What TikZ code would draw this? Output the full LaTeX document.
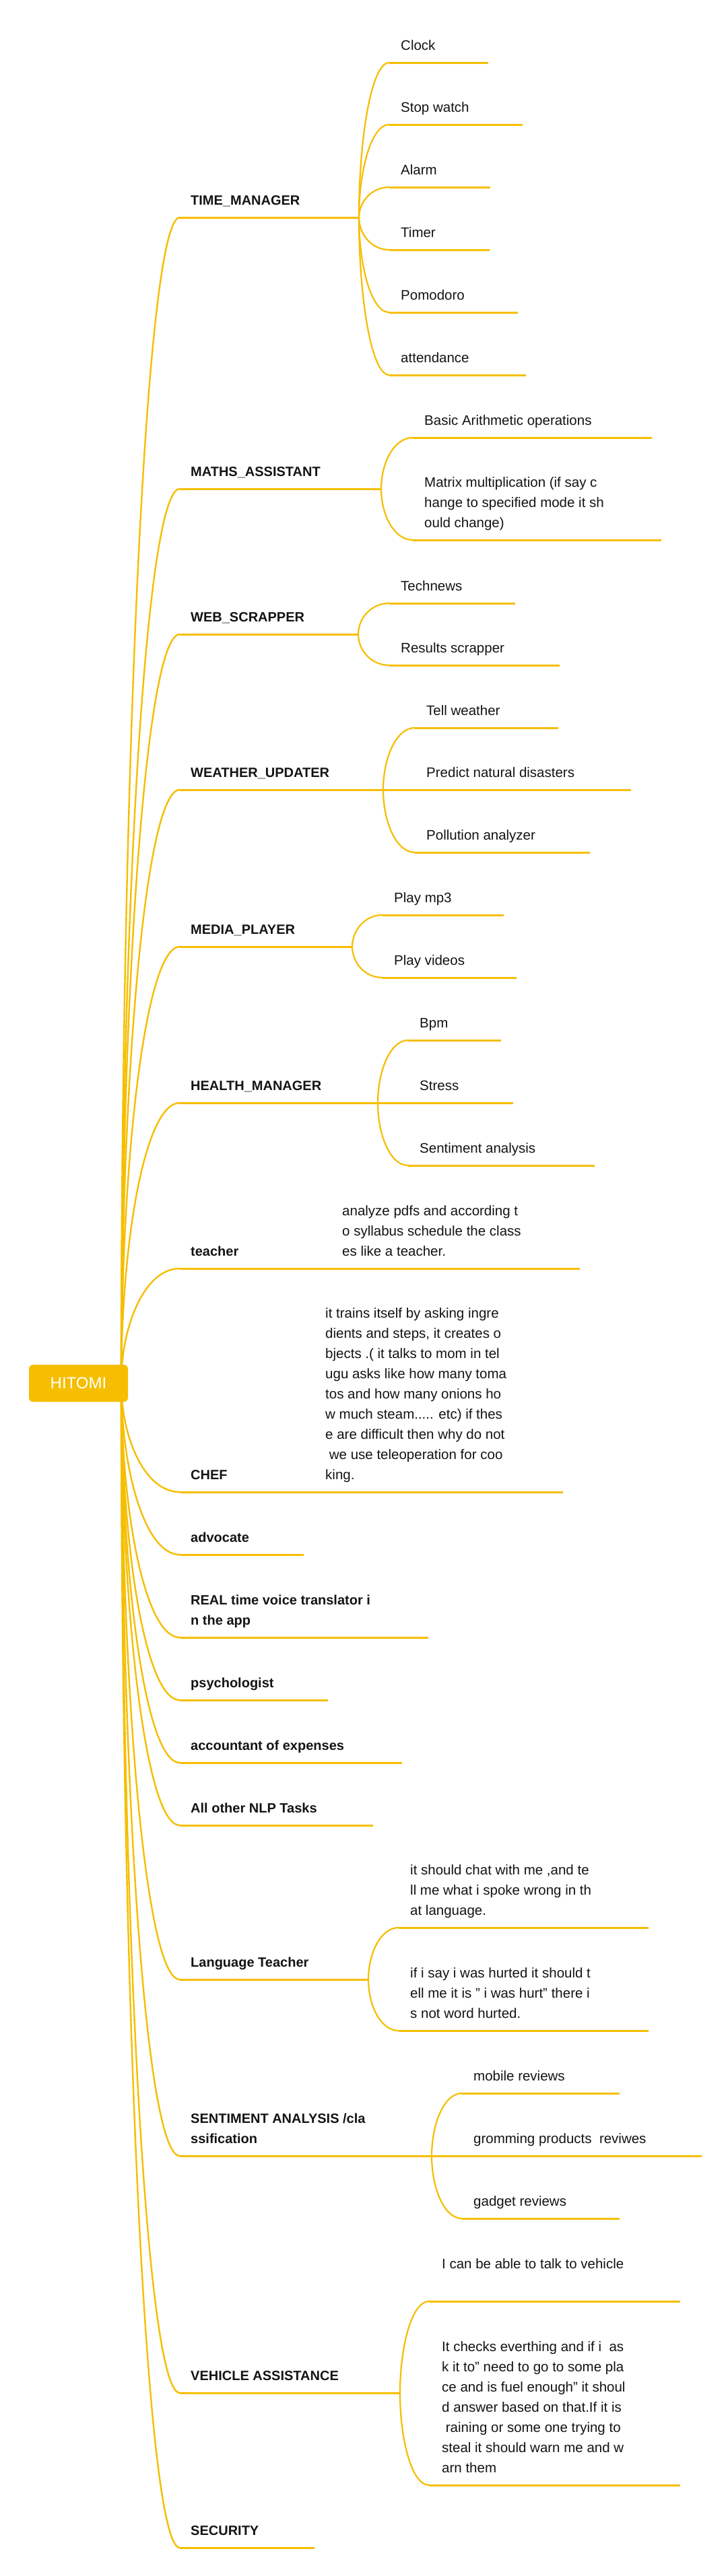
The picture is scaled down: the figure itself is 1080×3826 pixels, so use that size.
\documentclass[tikz,border=0pt]{standalone}
\usepackage{fontspec}
\setmainfont{Liberation Sans}
\usetikzlibrary{calc}
\definecolor{brc}{RGB}{246,190,0}
\definecolor{txt}{RGB}{20,20,20}
\newcommand{\mlt}[1]{\begin{tabular}[b]{@{}l@{}}#1\end{tabular}}
\tikzset{
 conn/.style={to path={let \p1=(\tikztostart), \p2=(\tikztotarget) in .. controls (\x1,{0.5*(\y1+\y2)}) and ({\x1+0.4*(\x2-\x1)},\y2) .. (\tikztotarget)}},
 rootline/.style={draw=brc, line width=2.4pt},
 subline/.style={draw=brc, line width=2.2pt},
 uline/.style={draw=brc, line width=3pt},
 topic/.style={anchor=base west, inner sep=0pt, text=txt, font=\fontsize{20}{30}\selectfont\bfseries},
 leaf/.style={anchor=base west, inner sep=0pt, text=txt, font=\fontsize{20.5}{30}\selectfont},
 rootbox/.style={fill=brc, rounded corners=6pt, minimum width=147pt, minimum height=55pt, inner sep=0pt, text=white, font=\fontsize{24}{28}\selectfont},
}
\begin{document}
\begin{tikzpicture}[x=1pt,y=-1pt]
\useasboundingbox (0,0) rectangle (1080,3826);
\fill[white] (0,0) rectangle (1080,3826);
\coordinate (rootout) at (180,2054);

% ---------- main topic coordinates ----------
\foreach \na/\yy/\ee in {tm/323/533, ma/726/566, ws/942/532, wu/1173/569, mp/1406/523, hm/1638/561, tc/1884/440, ch/2216/422, ad/2309/451, rt/2432/636, ps/2525/487, ac/2618/597, nl/2711/554, lt/2940/547, sa/3202/641, va/3554/594, se/3784/467}{
  \coordinate (\na A) at (267,\yy);
  \coordinate (\na B) at (\ee,\yy);
}
% ---------- leaf coordinates ----------
\foreach \na/\ss/\yy/\ee in {cl/578/93/725, sw/578/185/776, al/578/278/728, ti/578/371/727, po/578/464/769, at/578/557/781,
  ba/613/650/968, mm/613/802/982,
  tn/578/896/765, rs/578/988/831,
  tw/616/1081/829, pn/616/1173/937, pa/616/1266/876,
  p3/568/1359/748, pv/568/1452/767,
  bp/606/1545/744, st/606/1638/762, sn/606/1731/883,
  td/492/1884/861, cd/467/2216/836,
  la/592/2863/963, lb/592/3016/963,
  mr/686/3109/920, gp/686/3202/1042, gr/686/3295/920,
  vaa/637/3418/1010, vab/637/3691/1010}{
  \coordinate (\na A) at (\ss,\yy);
  \coordinate (\na B) at (\ee,\yy);
}

% ---------- connectors from root ----------
\foreach \na in {tm,ma,ws,wu,mp,hm,tc,ch,ad,rt,ps,ac,nl,lt,sa,va,se}{
  \draw[rootline] (rootout) to[conn] (\na A);
  \draw[uline] (\na A) -- (\na B);
}
% ---------- connectors to leaves (curved) ----------
\foreach \pp/\cc in {tm/cl, tm/sw, tm/al, tm/ti, tm/po, tm/at, ma/ba, ma/mm, ws/tn, ws/rs, wu/tw, wu/pa, mp/p3, mp/pv, hm/bp, hm/sn, lt/la, lt/lb, sa/mr, sa/gr, va/vaa, va/vab}{
  \draw[subline] (\pp B) to[conn] (\cc A);
  \draw[uline] (\cc A) -- (\cc B);
}
% ---------- connectors to leaves (level) ----------
\foreach \pp/\cc in {wu/pn, hm/st, tc/td, ch/cd, sa/gp}{
  \draw[uline] (\pp B) to[conn] (\cc A);
  \draw[uline] (\cc A) -- (\cc B);
}

% ---------- main topic texts ----------
\node[topic] (tm) at (283,304) {TIME\_MANAGER};
\node[topic] (ma) at (283,707) {MATHS\_ASSISTANT};
\node[topic] (ws) at (283,923) {WEB\_SCRAPPER};
\node[topic] (wu) at (283,1154) {WEATHER\_UPDATER};
\node[topic] (mp) at (283,1387) {MEDIA\_PLAYER};
\node[topic] (hm) at (283,1619) {HEALTH\_MANAGER};
\node[topic] (tc) at (283,1865) {teacher};
\node[topic] (ch) at (283,2197) {CHEF};
\node[topic] (ad) at (283,2290) {advocate};
\node[topic] (rt) at (283,2413) {\mlt{REAL time voice translator i\\n the app}};
\node[topic] (ps) at (283,2506) {psychologist};
\node[topic] (ac) at (283,2599) {accountant of expenses};
\node[topic] (nl) at (283,2692) {All other NLP Tasks};
\node[topic] (lt) at (283,2921) {Language Teacher};
\node[topic] (sa) at (283,3183) {\mlt{SENTIMENT ANALYSIS /cla\\ssification}};
\node[topic] (va) at (283,3535) {VEHICLE ASSISTANCE};
\node[topic] (se) at (283,3765) {SECURITY};

% ---------- leaf texts ----------
\node[leaf] (cl) at (595,74) {Clock};
\node[leaf] (sw) at (595,166) {Stop watch};
\node[leaf] (al) at (595,259) {Alarm};
\node[leaf] (ti) at (595,352) {Timer};
\node[leaf] (po) at (595,445) {Pomodoro};
\node[leaf] (at) at (595,538) {attendance};
\node[leaf] (ba) at (630,631) {Basic Arithmetic operations};
\node[leaf] (mm) at (630,783) {\mlt{Matrix multiplication (if say c\\hange to specified mode it sh\\ould change)}};
\node[leaf] (tn) at (595,877) {Technews};
\node[leaf] (rs) at (595,969) {Results scrapper};
\node[leaf] (tw) at (633,1062) {Tell weather};
\node[leaf] (pn) at (633,1154) {Predict natural disasters};
\node[leaf] (pa) at (633,1247) {Pollution analyzer};
\node[leaf] (p3) at (585,1340) {Play mp3};
\node[leaf] (pv) at (585,1433) {Play videos};
\node[leaf] (bp) at (623,1526) {Bpm};
\node[leaf] (st) at (623,1619) {Stress};
\node[leaf] (sn) at (623,1712) {Sentiment analysis};
\node[leaf] (td) at (508,1865) {\mlt{analyze pdfs and according t\\o syllabus schedule the class\\es like a teacher.}};
\node[leaf] (cd) at (483,2197) {\mlt{it trains itself by asking ingre\\dients and steps, it creates o\\bjects .( it talks to mom in tel\\ugu asks like how many toma\\tos and how many onions ho\\w much steam..... etc) if thes\\e are difficult then why do not\\\ we use teleoperation for coo\\king.}};
\node[leaf] (la) at (609,2844) {\mlt{it should chat with me ,and te\\ll me what i spoke wrong in th\\at language.}};
\node[leaf] (lb) at (609,2997) {\mlt{if i say i was hurted it should t\\ell me it is " i was hurt" there i\\s not word hurted.}};
\node[leaf] (mr) at (703,3090) {mobile reviews};
\node[leaf] (gp) at (703,3183) {gromming products\ \ reviwes};
\node[leaf] (gr) at (703,3276) {gadget reviews};
\node[leaf] (vat) at (656,3369) {I can be able to talk to vehicle};
\node[leaf] (vbt) at (656,3672) {\mlt{It checks everthing and if i\ \ as\\k it to" need to go to some pla\\ce and is fuel enough" it shoul\\d answer based on that.If it is\\\ raining or some one trying to\\steal it should warn me and w\\arn them}};

% ---------- root ----------
\node[rootbox] (root) at (116.5,2054.5) {HITOMI};
\end{tikzpicture}
\end{document}
